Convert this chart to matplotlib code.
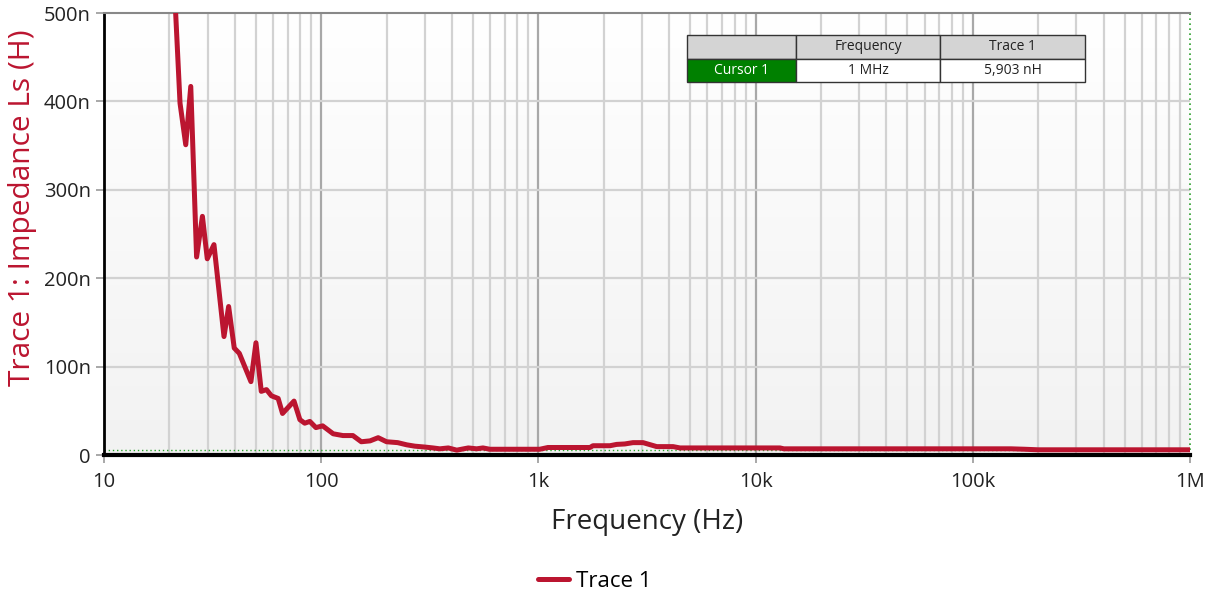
import numpy as np
import matplotlib
matplotlib.use("Agg")
import matplotlib.pyplot as plt
from matplotlib.lines import Line2D

plt.rcParams['font.family'] = ['Open Sans', 'DejaVu Sans']

# Trace 1 data (Hz, nH)
freq_hz = [21.0, 22.4, 23.8, 25.1, 26.7, 28.4, 29.9, 32.1, 35.7, 37.5, 39.8, 42.0,
           47.5, 50.1, 53.0, 56.0, 59.0, 63.4, 66.4, 75.0, 79.8, 84.0, 88.7, 94.6,
           101.6, 113.6, 126, 140, 153, 168, 183, 200, 225, 248, 270, 300, 327, 352,
           385, 421, 476, 520, 556, 598, 700, 850, 1015, 1107, 1300, 1500, 1729,
           1784, 2136, 2293, 2500, 2727, 3034, 3508, 4170, 4487, 6000, 8000, 10000,
           12950, 13500, 20000, 50000, 100000, 150000, 173800, 200000, 500000, 1000000]
ls_nh = [540, 398, 351, 417, 224, 270, 222, 238, 134, 168, 121, 115,
         83, 127, 72, 74, 67, 64, 47, 61, 40, 36, 38, 31,
         33, 24, 22, 22, 15, 16, 19.6, 15, 14, 11.5, 10, 9, 8, 7,
         8, 5.5, 8, 7, 8, 6.5, 6.5, 6.5, 6.5, 8.5, 8.5, 8.5, 8.5,
         10.5, 10.5, 12, 12.5, 14, 14, 9.5, 9.5, 8, 8, 8, 8,
         8, 7, 7, 7, 7, 7, 6.5, 5.9, 5.9, 5.903]

cursor_freq = 1e6
cursor_val = 5.903

x_ticks = [10, 100, 1e3, 1e4, 1e5, 1e6]
x_tick_labels = ['10', '100', '1k', '10k', '100k', '1M']
y_ticks = [0, 100, 200, 300, 400, 500]
y_tick_labels = ['0', '100n', '200n', '300n', '400n', '500n']

table_cols = ['', 'Frequency', 'Trace 1']
table_row = ['Cursor 1', '1 MHz', '5,903 nH']

trace_color = '#bb1530'

fig = plt.figure(figsize=(12.13, 5.93), dpi=100)
ax = fig.add_axes([0.0857, 0.2327, 0.8953, 0.7453])

# gradient background
grad = np.linspace(0, 1, 256).reshape(-1, 1)
ax.imshow(grad, extent=[0, 1, 0, 1], transform=ax.transAxes, aspect='auto',
          cmap=matplotlib.colors.LinearSegmentedColormap.from_list('bg', ['#f2f2f2', '#ffffff']),
          origin='lower', zorder=0)

ax.set_xscale('log')
ax.set_xlim(10, 1e6)
ax.set_ylim(0, 500)

# grid
for dec in [10, 100, 1e3, 1e4, 1e5]:
    for m in range(2, 10):
        ax.axvline(dec * m, color='#d2d2d2', lw=1.6, zorder=1)
for xt in x_ticks[1:-1]:
    ax.axvline(xt, color='#a8a8a8', lw=1.6, zorder=1)
for yt in y_ticks[1:-1]:
    ax.axhline(yt, color='#d2d2d2', lw=1.6, zorder=1)

# cursor lines
ax.axhline(cursor_val, color='#2ca02c', lw=1.0, ls=(0, (1, 2)), zorder=2)
ax.axvline(cursor_freq, color='#2ca02c', lw=1.2, ls=(0, (1, 2)), zorder=2, clip_on=False)

ax.plot(freq_hz, ls_nh, color=trace_color, lw=3.6, zorder=3, solid_joinstyle='round')

ax.set_xticks(x_ticks)
ax.set_xticklabels(x_tick_labels)
ax.xaxis.set_minor_locator(matplotlib.ticker.NullLocator())
ax.set_yticks(y_ticks)
ax.set_yticklabels(y_tick_labels)
ax.tick_params(axis='both', colors='#999999', labelcolor='#222222', labelsize=14.5,
               length=6, width=1.2)
ax.tick_params(axis='x', pad=6)

ax.spines['top'].set_color('#888888')
ax.spines['top'].set_linewidth(1.5)
ax.spines['right'].set_visible(False)
ax.spines['left'].set_color('black')
ax.spines['left'].set_linewidth(2)
ax.spines['bottom'].set_color('black')
ax.spines['bottom'].set_linewidth(3)

ax.set_xlabel('Frequency (Hz)', fontsize=20, color='#222222', labelpad=12)
ax.set_ylabel('Trace 1: Impedance Ls (H)', fontsize=21.5, color=trace_color)
ax.yaxis.set_label_coords(-0.062, 0.56)

# cursor table
tbl = ax.table(cellText=[table_row], colLabels=table_cols,
               bbox=[0.537, 0.844, 0.3665, 0.106], cellLoc='center', zorder=5)
tbl.auto_set_font_size(False)
tbl.set_fontsize(10)
widths = [109, 144, 145]
for (r, c), cell in tbl.get_celld().items():
    cell.set_edgecolor('#333333')
    cell.set_linewidth(1)
    cell.set_width(widths[c] / 1086)
    cell.get_text().set_color('#222222')
    if r == 0:
        cell.set_facecolor('#d4d4d4')
    elif c == 0:
        cell.set_facecolor('#008000')
        cell.get_text().set_color('white')
    else:
        cell.set_facecolor('white')

handle = Line2D([], [], color=trace_color, lw=3.6, solid_capstyle='round')
fig.legend([handle], ['Trace 1'], loc='center', bbox_to_anchor=(0.49, 0.02),
           frameon=False, fontsize=16, handlelength=1.4, handletextpad=0.3)

fig.savefig('out.png', dpi=100)
